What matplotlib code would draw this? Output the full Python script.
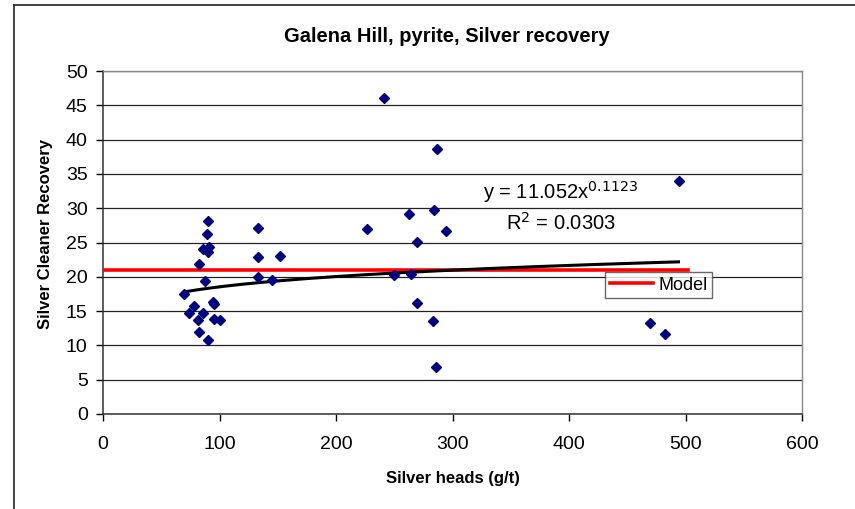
import numpy as np
import matplotlib
matplotlib.use("Agg")
import matplotlib.pyplot as plt
from matplotlib.lines import Line2D

plt.rcParams['font.family'] = ['Liberation Sans', 'DejaVu Sans']

# Data
silver_heads = [89.9, 89.4, 85.6, 91.4, 89.9, 82.8, 87.6, 69.8, 77.9, 94.3,
                95.1, 74.1, 85.6, 81.6, 95.1, 100.6, 82.8, 89.9,
                133.0, 133.0, 152.3, 133.4, 145.1,
                240.8, 286.5, 226.7, 262.7, 284.2, 294.8, 269.8, 249.4,
                264.7, 269.8, 283.0, 285.6,
                494.0, 469.8, 482.0]
recovery = [28.1, 26.3, 24.1, 24.3, 23.6, 21.9, 19.4, 17.5, 15.8, 16.3,
            16.0, 14.7, 14.7, 13.7, 13.9, 13.7, 11.9, 10.8,
            27.1, 22.9, 23.1, 19.9, 19.6,
            46.05, 38.6, 26.9, 29.2, 29.8, 26.7, 25.1, 20.2,
            20.4, 16.2, 13.55, 6.8,
            34.0, 13.3, 11.7]

# Power trendline coefficients shown on the chart
trend_a = 11.052
trend_b = 0.1123
r_squared = 0.0303

# Model line
model_x = [0, 502]
model_y = [21.0, 21.0]

x_ticks = [0, 100, 200, 300, 400, 500, 600]
y_ticks = [0, 5, 10, 15, 20, 25, 30, 35, 40, 45, 50]

W, H = 855, 509
fig = plt.figure(figsize=(W / 100, H / 100), dpi=100)
fig.patch.set_facecolor('white')

# outer chart frame (partially visible)
fig.add_artist(Line2D([14 / W, 14 / W], [0, 1 - 5 / H], color='#333333', lw=1.3,
                      transform=fig.transFigure))
fig.add_artist(Line2D([14 / W, 1], [1 - 5 / H, 1 - 5 / H], color='#333333', lw=1.3,
                      transform=fig.transFigure))

left, right, top, bottom = 103, 802, 71, 414
ax = fig.add_axes([left / W, 1 - bottom / H, (right - left) / W, (bottom - top) / H])

ax.set_xlim(0, 600)
ax.set_ylim(0, 50)
ax.set_xticks(x_ticks)
ax.set_yticks(y_ticks)
ax.tick_params(axis='both', direction='out', length=5, width=1, color='black',
               labelsize=14, pad=6)
ax.tick_params(axis='x', pad=11)
ax.yaxis.grid(True, color='#222222', lw=0.9)
ax.set_axisbelow(True)
for s in ['left', 'bottom']:
    ax.spines[s].set_color('#333333')
    ax.spines[s].set_linewidth(1.1)
for s in ['top', 'right']:
    ax.spines[s].set_color('#888888')
    ax.spines[s].set_linewidth(1.0)

# model line
ax.plot(model_x, model_y, color='#ff0000', lw=2.6, label='Model', zorder=3)

# trendline
xs = np.linspace(min(silver_heads), max(silver_heads), 200)
ax.plot(xs, trend_a * xs ** trend_b, color='black', lw=2.2, zorder=4)

# data points
ax.plot(silver_heads, recovery, linestyle='none', marker='D', ms=4.8,
        color='#000080', zorder=5)

ax.text(393, 32.3, 'y = 11.052x$^{0.1123}$', fontsize=14.5, ha='center', va='center')
ax.text(393, 27.8, 'R$^2$ = 0.0303', fontsize=14.5, ha='center', va='center')

ax.set_xlabel('Silver heads (g/t)', fontsize=12, fontweight='bold')
ax.xaxis.set_label_coords(0.5, -0.166)
ax.set_ylabel('Silver Cleaner Recovery', fontsize=12, fontweight='bold')
ax.yaxis.set_label_coords(-0.0715, 0.525)
fig.text(447 / W, 1 - 37 / H, 'Galena Hill, pyrite, Silver recovery', fontsize=14.5,
         fontweight='bold', ha='center', va='center')

leg = ax.legend(loc='upper left', bbox_to_anchor=(605 / W, 1 - 272 / H),
                bbox_transform=fig.transFigure, fontsize=13, frameon=True,
                fancybox=False, handlelength=2.4, borderpad=0.25, handletextpad=0.3,
                borderaxespad=0)
leg.get_frame().set_edgecolor('#444444')
leg.get_frame().set_linewidth(1.0)

fig.savefig('out.png', dpi=100, facecolor='white')
